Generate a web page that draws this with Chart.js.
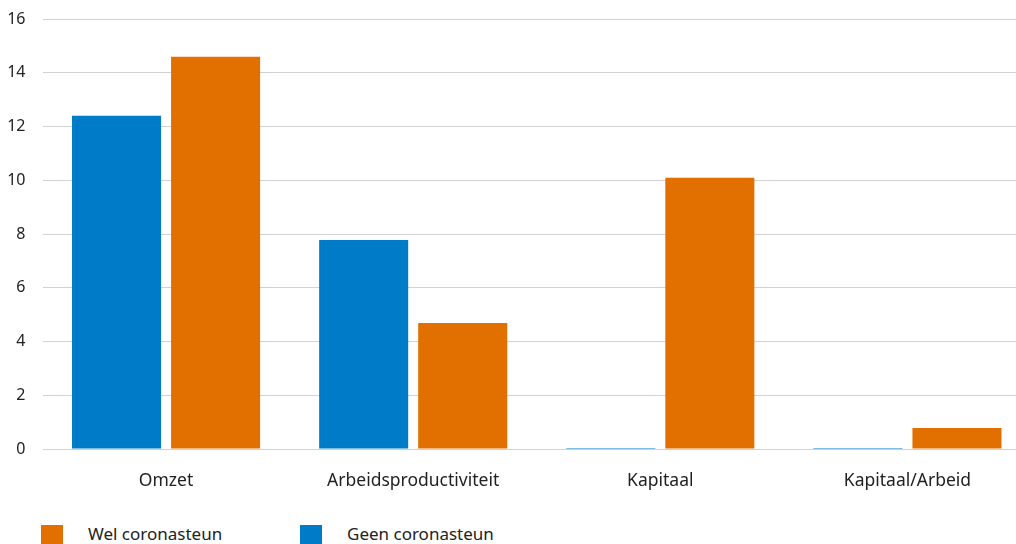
<!DOCTYPE html>
<html>
<head>
<meta charset="utf-8">
<script src="https://cdn.jsdelivr.net/npm/chart.js@4/dist/chart.umd.min.js"></script>
<style>
  html, body { margin: 0; padding: 0; background: #fff; overflow: hidden; width: 1016px; height: 544px; }
  #wrap { position: absolute; left: 0; top: 0; width: 1031px; height: 500px; }
  .leg { position: absolute; top: 525px; font-family: "Noto Sans", sans-serif; font-size: 17px; color: #222; }
  .leg .sw { position: absolute; left: 0; top: 0; width: 22px; height: 22px; }
  .leg .tx { position: absolute; left: 47px; top: -3px; white-space: nowrap; line-height: 24px; }
</style>
</head>
<body>
<div id="wrap"><canvas id="c" width="1031" height="500"></canvas></div>
<div class="leg" style="left:41px"><div class="sw" style="background:#e17000"></div><div class="tx">Wel coronasteun</div></div>
<div class="leg" style="left:300px"><div class="sw" style="background:#007bc7"></div><div class="tx">Geen coronasteun</div></div>
<script>
const categories = ["Omzet", "Arbeidsproductiviteit", "Kapitaal", "Kapitaal/Arbeid"];
const geenCoronasteun = [12.4, 7.78, 0, 0];
const welCoronasteun = [14.6, 4.69, 10.09, 0.78];
const yTicks = [0, 2, 4, 6, 8, 10, 12, 14, 16];

new Chart(document.getElementById("c"), {
  type: "bar",
  data: {
    labels: categories,
    datasets: [
      { label: "Geen coronasteun", data: geenCoronasteun, backgroundColor: "#007bc7", minBarLength: 1 },
      { label: "Wel coronasteun", data: welCoronasteun, backgroundColor: "#e17000" }
    ]
  },
  options: {
    responsive: false,
    animation: false,
    events: [],
    layout: { padding: { top: 19, right: 0, left: 0, bottom: 0 } },
    datasets: { bar: { categoryPercentage: 0.8016, barPercentage: 0.899 } },
    plugins: { legend: { display: false }, tooltip: { enabled: false } },
    scales: {
      x: {
        grid: { display: false, drawTicks: false },
        border: { display: false },
        ticks: { font: { family: "Noto Sans", size: 17.5 }, color: "#222", padding: 22, maxRotation: 0, autoSkip: false },
        afterFit: (s) => { s.height = 51; s.paddingLeft = 0; s.paddingRight = 0; }
      },
      y: {
        min: 0, max: 16,
        afterBuildTicks: (s) => { s.ticks = yTicks.map(v => ({ value: v })); },
        grid: { color: "#d2d2d2", lineWidth: 1, drawTicks: false },
        border: { display: false },
        ticks: { font: { family: "Noto Sans", size: 16 }, color: "#222", padding: 17 },
        afterFit: (s) => { s.width = 42.5; s.paddingTop = 0; s.paddingBottom = 0; }
      }
    }
  }
});
</script>
</body>
</html>
